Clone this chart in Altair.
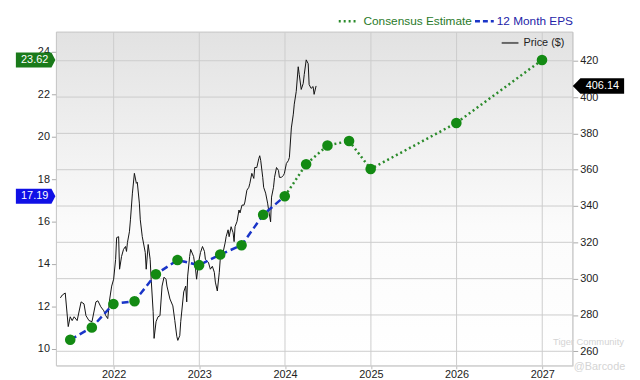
import altair as alt
import pandas as pd

# ---------------- data ----------------
eps_dates = ["2021-06-30", "2021-09-30", "2021-12-31", "2022-03-31", "2022-06-30",
             "2022-09-30", "2022-12-31", "2023-03-31", "2023-06-30", "2023-09-30",
             "2023-12-31"]
eps_values = [10.42, 11.00, 12.11, 12.24, 13.51, 14.18, 13.94, 14.44, 14.88, 16.32, 17.19]

est_dates = ["2023-12-31", "2024-03-31", "2024-06-30", "2024-09-30", "2024-12-31",
             "2025-12-31", "2026-12-31"]
est_values = [17.19, 18.70, 19.59, 19.80, 18.48, 20.65, 23.62]

price_years = [
    2021.378, 2021.401, 2021.435, 2021.470, 2021.493, 2021.516, 2021.539, 2021.574, 2021.620, 2021.654,
    2021.677, 2021.712, 2021.747, 2021.793, 2021.816, 2021.850, 2021.885, 2021.908, 2021.931, 2021.954,
    2021.977,
    2022.000, 2022.023, 2022.035, 2022.058, 2022.069, 2022.092, 2022.115, 2022.138, 2022.150, 2022.161,
    2022.184, 2022.196, 2022.219, 2022.242, 2022.265, 2022.276, 2022.300, 2022.311, 2022.334, 2022.369,
    2022.380, 2022.403, 2022.426, 2022.438, 2022.461, 2022.472, 2022.495, 2022.518, 2022.541, 2022.565,
    2022.588, 2022.611, 2022.622, 2022.657, 2022.691, 2022.714, 2022.737, 2022.749, 2022.772, 2022.783,
    2022.818, 2022.841, 2022.853, 2022.864, 2022.887, 2022.899, 2022.933, 2022.956, 2022.968, 2022.991,
    2023.014, 2023.037, 2023.060, 2023.071, 2023.106, 2023.129, 2023.152, 2023.175, 2023.187, 2023.210,
    2023.233, 2023.244, 2023.267, 2023.302, 2023.313, 2023.336, 2023.348, 2023.371, 2023.394, 2023.406,
    2023.417, 2023.440, 2023.463, 2023.475, 2023.498, 2023.521, 2023.532, 2023.555, 2023.578, 2023.590,
    2023.613, 2023.636, 2023.647, 2023.671, 2023.694, 2023.705, 2023.717, 2023.740, 2023.751, 2023.774,
    2023.797, 2023.809, 2023.832, 2023.843, 2023.866, 2023.878, 2023.901, 2023.924, 2023.935, 2023.959,
    2023.982, 2023.993,
    2024.016, 2024.039, 2024.051, 2024.074, 2024.097, 2024.108, 2024.131, 2024.154, 2024.166, 2024.189,
    2024.212, 2024.224, 2024.247, 2024.270, 2024.281, 2024.304, 2024.327, 2024.339, 2024.362,
]
price_values = [
    289.4, 291.0, 292.1, 273.6, 279.0, 276.9, 279.0, 276.9, 287.2, 286.1,
    279.6, 276.9, 276.3, 287.2, 287.8, 284.5, 282.3, 279.6, 278.0, 288.8,
    295.9,
    299.7, 310.6, 322.6, 323.1, 305.2, 312.2, 316.1, 317.7, 315.0, 319.9,
    325.8, 332.4, 347.1, 358.0, 352.5, 353.1, 341.6, 332.4, 323.1, 314.4,
    305.2, 318.8, 310.6, 299.7, 281.8, 267.1, 276.3, 279.0, 279.6, 295.9,
    300.8, 299.7, 295.9, 288.8, 285.0, 276.9, 268.2, 266.0, 268.7, 276.3,
    292.7, 295.9, 287.2, 301.4, 312.2, 316.1, 312.2, 305.2, 299.7, 309.0,
    314.4, 317.7, 315.0, 310.6, 309.0, 305.2, 306.8, 303.5, 298.1, 293.2,
    303.5, 310.6, 312.2, 319.9, 323.1, 326.9, 323.1, 328.6, 325.3, 320.4,
    328.6, 331.5, 337.8, 336.2, 340.5, 340.5, 342.2, 348.7, 350.3, 352.5,
    358.0, 355.2, 361.2, 361.2, 366.1, 367.7, 365.0, 355.8, 350.3, 347.1,
    341.6, 337.8, 331.3, 344.9, 350.3, 355.8, 361.2, 359.6, 355.8, 355.8,
    356.9, 358.0,
    363.4, 365.0, 366.7, 383.0, 390.6, 396.1, 403.1, 416.7, 412.4, 404.2,
    407.5, 412.4, 420.5, 418.4, 406.9, 404.8, 405.8, 401.5, 406.14,
]

year_ticks = [2022, 2023, 2024, 2025, 2026, 2027]
eps_ticks = [10, 12, 14, 16, 18, 20, 22, 24]
price_ticks = [260, 280, 300, 320, 340, 360, 380, 400, 420]

FONT = "Liberation Sans"
W, H = 523, 338


def frac_year(y):
    yr = int(y)
    start = pd.Timestamp(yr, 1, 1)
    end = pd.Timestamp(yr + 1, 1, 1)
    return start + (end - start) * (y - yr)


price_df = pd.DataFrame({"date": [frac_year(v) for v in price_years], "price": price_values})
eps_df = pd.DataFrame({"date": pd.to_datetime(eps_dates), "eps": eps_values})
est_df = pd.DataFrame({"date": pd.to_datetime(est_dates), "eps": est_values})
pts_df = pd.concat([eps_df, est_df.iloc[1:]], ignore_index=True)
gx_df = pd.DataFrame({"date": [pd.Timestamp(y, 1, 1) for y in year_ticks]})
gy_df = pd.DataFrame({"price": price_ticks})
eps_tag_df = pd.DataFrame({"eps": [est_values[-1], eps_values[-1]],
                           "col": ["#1a7a1a", "#1010e6"]})
price_tag_df = pd.DataFrame({"price": [price_values[-1]]})
one = pd.DataFrame({"k": [0]})

# ---------------- scales / axes ----------------
x_scale = alt.Scale(domain=[alt.DateTime(year=2021, month=5, date=2),
                            alt.DateTime(year=2027, month=5, date=11)])
x_axis = alt.Axis(values=[alt.DateTime(year=y, month=1, date=1) for y in year_ticks],
                  format="%Y", title=None, grid=False, domain=False, tickSize=3,
                  tickColor="#bbbbbb", labelFontSize=11, labelColor="#222222",
                  labelPadding=0, labelFont=FONT)
X = alt.X("date:T", scale=x_scale, axis=x_axis)

price_scale = alt.Scale(domain=[252.0, 435.8], nice=False, zero=False)
price_axis = alt.Axis(orient="right", values=price_ticks, title=None, grid=False,
                      domain=False, tickSize=5, tickColor="#aaaaaa", labelFontSize=11,
                      labelColor="#222222", labelPadding=2, labelFont=FONT)
YP = alt.Y("price:Q", scale=price_scale, axis=price_axis)

eps_scale = alt.Scale(domain=[9.19, 24.94], nice=False, zero=False)
eps_axis = alt.Axis(orient="left", values=eps_ticks, title=None, grid=False,
                    domain=False, tickSize=5, tickColor="#aaaaaa", labelFontSize=11,
                    labelColor="#222222", labelPadding=2, labelFont=FONT)
YE = alt.Y("eps:Q", scale=eps_scale, axis=eps_axis)

# ---------------- price group (background, grid, price) ----------------
bg = alt.Chart(one).mark_rect(
    fill=alt.LinearGradient(
        gradient="linear",
        stops=[alt.GradientStop(color="#e2e2e2", offset=0),
               alt.GradientStop(color="#fbfbfb", offset=0.58),
               alt.GradientStop(color="#ffffff", offset=1)],
        x1=0, x2=0, y1=0, y2=1),
    stroke="#c4c4c4", strokeWidth=1,
).encode(x=alt.value(0), x2=alt.value(W), y=alt.value(0), y2=alt.value(H))

vgrid = alt.Chart(gx_df).mark_rule(color="#cccccc", strokeWidth=1).encode(
    x=X, y=alt.value(0), y2=alt.value(H))
hgrid = alt.Chart(gy_df).mark_rule(color="#cccccc", strokeWidth=1).encode(
    y=YP, x=alt.value(0), x2=alt.value(W))

price_line = alt.Chart(price_df).mark_line(color="#111111", strokeWidth=1).encode(x=X, y=YP)

price_tag = alt.Chart(price_tag_df).mark_point(
    shape="M1,-0.3L-0.7,-0.3L-1,0L-0.7,0.3L1,0.3Z", size=2704, filled=True,
    color="#000000", opacity=1, strokeWidth=0,
).encode(x=alt.value(W + 26), y=YP)
price_tag_text = alt.Chart(price_tag_df).mark_text(
    color="white", fontSize=11, font=FONT, align="center", baseline="middle",
).encode(x=alt.value(W + 30), y=YP, text=alt.Text("price:Q", format=".2f"))

price_leg_line = alt.Chart(one).mark_rule(color="#666666", strokeWidth=2).encode(
    x=alt.value(451), x2=alt.value(468), y=alt.value(11))
price_leg_text = alt.Chart(one).mark_text(
    text="Price ($)", align="left", baseline="middle", fontSize=11, font=FONT, color="#222222",
).encode(x=alt.value(473), y=alt.value(11))

price_group = alt.layer(bg, vgrid, hgrid, price_line, price_tag, price_tag_text,
                        price_leg_line, price_leg_text)

# ---------------- EPS group ----------------
eps_line = alt.Chart(eps_df).mark_line(
    color="#1a35c8", strokeWidth=2.5, strokeDash=[7, 4]).encode(x=X, y=YE)
est_line = alt.Chart(est_df).mark_line(
    color="#2a8a2a", strokeWidth=2.5, strokeDash=[2, 3]).encode(x=X, y=YE)
points = alt.Chart(pts_df).mark_circle(size=115, color="#138a13", opacity=1).encode(x=X, y=YE)

eps_tags = alt.Chart(eps_tag_df).mark_point(
    shape="M-1,-0.38L0.8,-0.38L1,0L0.8,0.38L-1,0.38Z", size=1600, filled=True,
    opacity=1, strokeWidth=0,
).encode(x=alt.value(-21), y=YE, color=alt.Color("col:N", scale=None))
eps_tag_text = alt.Chart(eps_tag_df).mark_text(
    color="white", fontSize=11, font=FONT, align="center", baseline="middle",
).encode(x=alt.value(-22), y=YE, text=alt.Text("eps:Q", format=".2f"))

leg1_line = alt.Chart(one).mark_rule(color="#2a8a2a", strokeWidth=2.5, strokeDash=[2, 3]).encode(
    x=alt.value(286), x2=alt.value(306), y=alt.value(-11))
leg1_text = alt.Chart(one).mark_text(
    text="Consensus Estimate", align="left", baseline="middle", fontSize=12, font=FONT,
    color="#2a7a2a",
).encode(x=alt.value(311), y=alt.value(-11))
leg2_line = alt.Chart(one).mark_rule(color="#1a35c8", strokeWidth=2.5, strokeDash=[5, 3]).encode(
    x=alt.value(424), x2=alt.value(443), y=alt.value(-11))
leg2_text = alt.Chart(one).mark_text(
    text="12 Month EPS", align="left", baseline="middle", fontSize=12, font=FONT,
    color="#2424a8",
).encode(x=alt.value(446), y=alt.value(-11))

wm1 = alt.Chart(one).mark_text(
    text="Tiger Community", align="left", baseline="middle", fontSize=9.5, font=FONT,
    color="#d4d4d4",
).encode(x=alt.value(503), y=alt.value(314))
wm2 = alt.Chart(one).mark_text(
    text="@Barcode", align="left", baseline="middle", fontSize=11, font=FONT,
    color="#d4d4d4",
).encode(x=alt.value(524), y=alt.value(339))

eps_group = alt.layer(eps_line, est_line, points, eps_tags, eps_tag_text,
                      leg1_line, leg1_text, leg2_line, leg2_text, wm1, wm2)

chart = (
    alt.layer(price_group, eps_group)
    .resolve_scale(y="independent")
    .properties(width=W, height=H, autosize=alt.AutoSizeParams(type="none"),
                padding={"left": 49, "top": 22, "right": 60, "bottom": 12})
    .configure_view(stroke=None)
    .configure(font=FONT)
)

chart.save("out.html", embed_options={"renderer": "svg", "actions": False})
